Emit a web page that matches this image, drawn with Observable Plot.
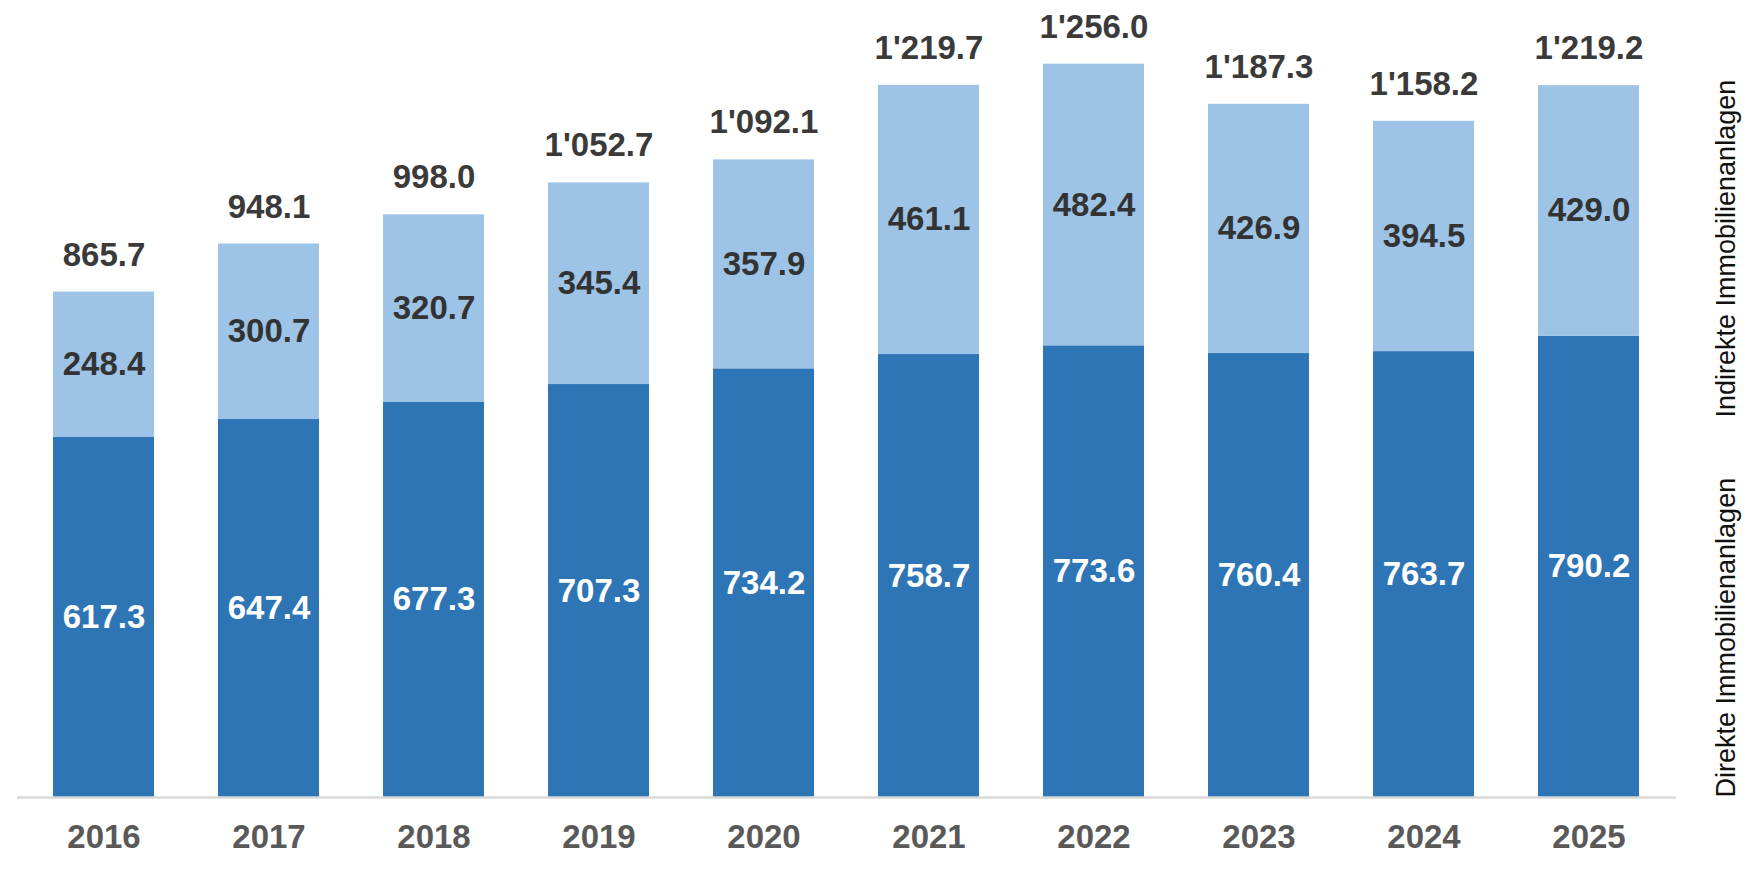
<!DOCTYPE html>
<html>
<head>
<meta charset="utf-8">
<script src="https://cdn.jsdelivr.net/npm/d3@7"></script>
<script src="https://cdn.jsdelivr.net/npm/@observablehq/plot@0.6"></script>
<style>
  html, body { margin: 0; padding: 0; background: #ffffff; }
  #chart svg { display: block; }
</style>
</head>
<body>
<div id="chart"></div>
<script>
const years = ["2016","2017","2018","2019","2020","2021","2022","2023","2024","2025"];
const direkte = [617.3, 647.4, 677.3, 707.3, 734.2, 758.7, 773.6, 760.4, 763.7, 790.2];
const indirekte = [248.4, 300.7, 320.7, 345.4, 357.9, 461.1, 482.4, 426.9, 394.5, 429.0];
const totals = [865.7, 948.1, 998.0, 1052.7, 1092.1, 1219.7, 1256.0, 1187.3, 1158.2, 1219.2];
const seriesNames = ["Direkte Immobilienanlagen", "Indirekte Immobilienanlagen"];
const seriesColors = ["#2E75B6", "#9DC3E6"];

const fmt = d3.formatLocale({decimal: ".", thousands: "'", grouping: [3]}).format(",.1f");

const rows = [];
years.forEach((y, i) => {
  rows.push({year: y, series: seriesNames[0], value: direkte[i], mid: direkte[i] / 2});
  rows.push({year: y, series: seriesNames[1], value: indirekte[i], mid: direkte[i] + indirekte[i] / 2});
});
const totalRows = years.map((y, i) => ({year: y, total: totals[i]}));

const font = "Liberation Sans, Arial, sans-serif";
const labelSize = 33;

const chart = Plot.plot({
  width: 1755,
  height: 873,
  marginLeft: 17,
  marginRight: 79,
  marginTop: 38,
  marginBottom: 76,
  style: {fontFamily: font, background: "#ffffff"},
  x: {domain: years, paddingInner: 0.385, paddingOuter: 0.19, align: 0.5, label: null},
  y: {domain: [0, 1300], axis: null},
  color: {domain: seriesNames, range: seriesColors},
  marks: [
    Plot.barY(rows, {x: "year", y: "value", fill: "series"}),
    Plot.ruleY([0], {stroke: "#d9d9d9", strokeWidth: 2.5}),
    Plot.axisX({tickSize: 0, tickPadding: 27, fontSize: labelSize, fontWeight: "bold", fill: "#595959", label: null}),
    Plot.text(rows.filter(d => d.series === seriesNames[0]), {
      x: "year", y: "mid", text: d => fmt(d.value),
      fill: "#ffffff", fontSize: labelSize, fontWeight: "bold", lineAnchor: "middle"
    }),
    Plot.text(rows.filter(d => d.series === seriesNames[1]), {
      x: "year", y: "mid", text: d => fmt(d.value),
      fill: "#333333", fontSize: labelSize, fontWeight: "bold", lineAnchor: "middle"
    }),
    Plot.text(totalRows, {
      x: "year", y: "total", text: d => fmt(d.total),
      fill: "#3a3a3a", fontSize: labelSize, fontWeight: "bold", lineAnchor: "middle", dy: -37
    }),
    Plot.text([seriesNames[0]], {
      text: d => d, frameAnchor: "bottom-right", rotate: -90, textAnchor: "start",
      lineAnchor: "middle", dx: 50, dy: 0, fontSize: 27, fill: "#111111"
    }),
    Plot.text([seriesNames[1]], {
      text: d => d, frameAnchor: "bottom-right", rotate: -90, textAnchor: "start",
      lineAnchor: "middle", dx: 50, dy: -380, fontSize: 27, fill: "#111111"
    })
  ]
});
document.getElementById("chart").appendChild(chart);
</script>
</body>
</html>
